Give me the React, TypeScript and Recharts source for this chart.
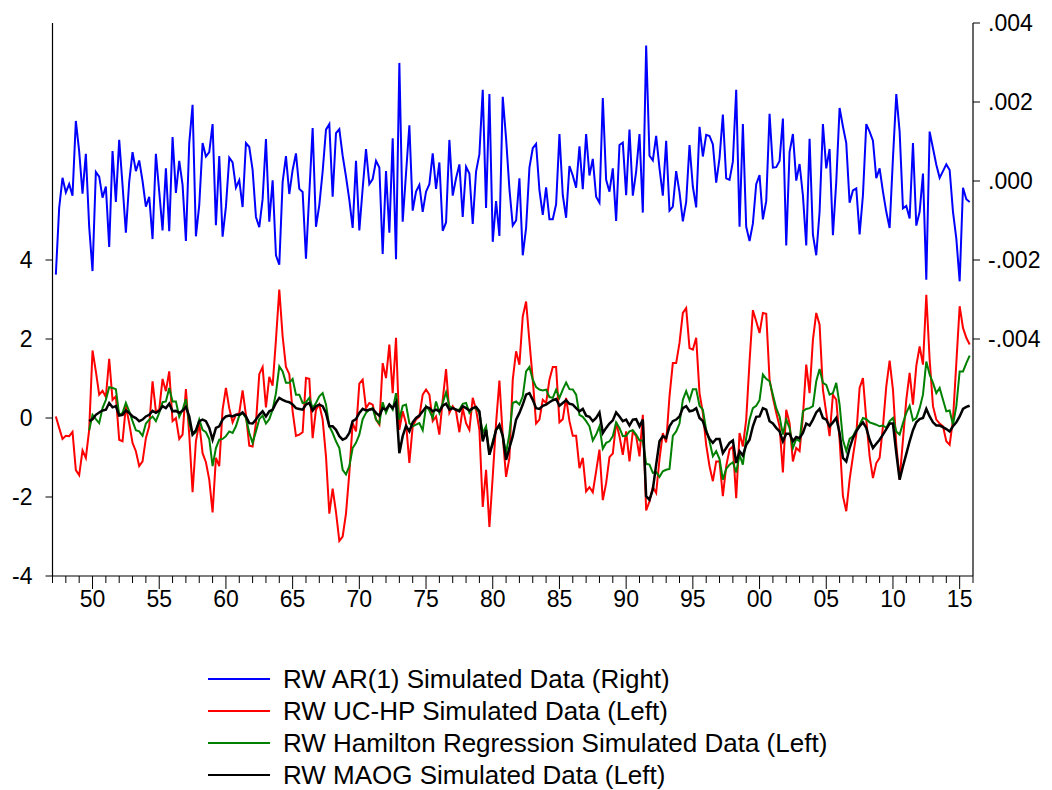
import React from "react";
import { LineChart, Line, XAxis, YAxis } from "recharts";

// Quarterly observations, 1947Q2 .. 2015Q4 (quarter index 1..275 from 1947Q1)
const START_YEAR = 1947;
const END_YEAR = 2016;

const arSim: number[] = [
  -2.37e-3, -0.68e-3, 0.08e-3, -0.29e-3, -0.08e-3, -0.37e-3, 1.52e-3, 0.75e-3, -0.32e-3, 0.69e-3,
  -1.16e-3, -2.28e-3, 0.23e-3, 0.11e-3, -0.42e-3, -0.14e-3, -1.67e-3, 0.76e-3, -0.53e-3, 1.04e-3,
  -0.10e-3, -1.31e-3, -0.02e-3, 0.73e-3, 0.25e-3, 0.52e-3, 0.0, -0.65e-3, -0.40e-3, -1.47e-3,
  0.69e-3, -0.27e-3, -1.25e-3, 0.32e-3, -1.27e-3, 1.11e-3, -0.30e-3, 0.51e-3, -0.10e-3, -1.52e-3,
  0.96e-3, 1.93e-3, -1.40e-3, -0.61e-3, 0.96e-3, 0.62e-3, 0.73e-3, 1.44e-3, -1.12e-3, 0.63e-3,
  -1.41e-3, -0.65e-3, 0.59e-3, 0.47e-3, -0.17e-3, 0.02e-3, -0.66e-3, 0.96e-3, 0.86e-3, 0.28e-3,
  -0.91e-3, -1.17e-3, -0.46e-3, 1.06e-3, -1.03e-3, 0.02e-3, -1.88e-3, -2.12e-3, -0.03e-3, 0.63e-3,
  -0.33e-3, 0.28e-3, 0.70e-3, -0.20e-3, -0.28e-3, -1.97e-3, -0.31e-3, 1.34e-3, -1.16e-3, -0.61e-3,
  0.24e-3, 1.30e-3, 1.44e-3, -0.40e-3, 1.21e-3, 1.31e-3, 0.64e-3, 0.11e-3, -0.48e-3, -1.19e-3,
  0.51e-3, -1.25e-3, -0.19e-3, 0.81e-3, -0.08e-3, 0.05e-3, 0.51e-3, 0.34e-3, -1.85e-3, 0.25e-3,
  -1.31e-3, 1.08e-3, -1.98e-3, 2.99e-3, -1.03e-3, 0.19e-3, 1.41e-3, -0.75e-3, -0.27e-3, -0.10e-3,
  -0.78e-3, -0.27e-3, -0.08e-3, 0.70e-3, -0.20e-3, 0.47e-3, -1.26e-3, -1.05e-3, 1.04e-3, -0.37e-3,
  0.07e-3, 0.42e-3, -0.91e-3, 0.36e-3, 0.19e-3, -1.09e-3, 0.24e-3, 0.68e-3, 2.31e-3, -0.68e-3,
  2.20e-3, -1.54e-3, -0.51e-3, -1.39e-3, 2.13e-3, 1.08e-3, -0.20e-3, -1.13e-3, -1.00e-3, 0.07e-3,
  -1.88e-3, -1.19e-3, 0.34e-3, 0.83e-3, 0.94e-3, -0.23e-3, -0.86e-3, -0.16e-3, -0.97e-3, -0.97e-3,
  -0.59e-3, 1.19e-3, -0.36e-3, -0.93e-3, 0.38e-3, 0.14e-3, -0.17e-3, 0.88e-3, -0.21e-3, 1.19e-3,
  0.14e-3, 0.56e-3, -0.40e-3, -0.55e-3, 2.10e-3, 0.03e-3, -0.27e-3, 0.32e-3, -1.01e-3, 0.91e-3,
  0.97e-3, -0.36e-3, 1.30e-3, -0.37e-3, 0.24e-3, 1.19e-3, -0.80e-3, 3.43e-3, 0.64e-3, 0.52e-3,
  1.14e-3, 0.32e-3, -0.37e-3, 1.02e-3, -0.75e-3, -0.65e-3, 0.25e-3, -0.29e-3, -1.02e-3, -0.53e-3,
  0.91e-3, -0.14e-3, -0.67e-3, 1.37e-3, 0.62e-3, 1.17e-3, 1.14e-3, 0.93e-3, -0.04e-3, 0.58e-3,
  1.68e-3, 0.07e-3, 0.03e-3, 0.49e-3, 2.31e-3, -1.16e-3, 1.44e-3, -1.16e-3, -1.52e-3, -1.08e-3,
  -0.08e-3, 0.15e-3, -0.97e-3, -0.51e-3, 1.70e-3, 0.34e-3, 0.35e-3, 0.51e-3, 1.58e-3, -1.63e-3,
  0.73e-3, 1.19e-3, 0.01e-3, 0.43e-3, -0.36e-3, -1.63e-3, 1.07e-3, -1.36e-3, -1.88e-3, -0.78e-3,
  1.44e-3, 0.32e-3, 0.81e-3, -1.37e-3, -0.02e-3, 1.85e-3, 1.38e-3, 0.96e-3, -0.55e-3, -0.24e-3,
  -0.19e-3, -1.35e-3, -0.36e-3, 1.44e-3, 1.25e-3, 1.02e-3, 0.07e-3, 0.32e-3, -0.27e-3, -0.78e-3,
  -1.19e-3, 0.58e-3, 2.20e-3, 1.25e-3, -0.69e-3, -0.63e-3, -0.95e-3, 0.96e-3, -1.13e-3, -0.78e-3,
  0.19e-3, -2.50e-3, 1.25e-3, 0.83e-3, 0.41e-3, 0.08e-3, 0.25e-3, 0.42e-3, 0.28e-3, -0.78e-3,
  -1.46e-3, -2.54e-3, -0.17e-3, -0.46e-3, -0.53e-3,
];

const ucHp: number[] = [
  0.04, -0.25, -0.53, -0.45, -0.46, -0.35, -1.32, -1.45, -0.82, -1.01,
  -0.30, 1.71, 1.18, 0.59, 0.69, 0.53, 1.50, 0.46, 0.55, -0.55,
  -0.59, 0.30, -0.13, -0.63, -0.84, -1.22, -1.10, -0.51, -0.21, 0.93,
  0.17, 0.21, 0.99, 0.68, 1.18, -0.08, 0.00, -0.53, -0.42, 0.73,
  -0.42, -1.88, -0.59, -0.13, -0.89, -1.12, -1.56, -2.39, -1.01, -1.22,
  0.21, 0.76, 0.25, -0.11, 0.08, 0.13, 0.70, 0.08, -0.70, -0.72,
  -0.13, 1.11, 1.29, 0.27, 1.04, 0.82, 1.98, 3.25, 2.07, 1.29,
  1.11, 0.17, -0.45, -0.42, -0.36, 1.01, 0.99, -0.51, 0.21, 0.34,
  -0.04, -0.97, -2.42, -1.79, -2.38, -3.11, -3.00, -2.42, -1.39, -0.13,
  -0.34, 0.87, 0.97, 0.25, 0.38, 0.34, -0.04, -0.17, 1.39, 1.01,
  1.86, 0.63, 2.03, -0.30, 0.17, -0.13, -1.14, -0.21, -0.04, 0.04,
  0.59, 0.72, 0.59, -0.08, 0.04, -0.42, 0.46, 1.24, 0.13, 0.30,
  0.17, -0.36, 0.25, -0.13, -0.30, 0.51, 0.21, -0.30, -2.25, -1.31,
  -2.76, -1.48, -0.13, 0.95, -0.46, -1.49, -1.01, 0.97, 1.69, 1.35,
  2.57, 2.95, 1.94, 0.97, -0.14, -0.04, 0.46, 0.38, 0.97, 1.29,
  1.29, -0.11, -0.03, 0.51, -0.08, -0.45, -0.45, -1.27, -1.01, -1.86,
  -1.75, -1.88, -1.35, -0.80, -2.08, -1.65, -0.99, -0.90, -0.11, -0.46,
  -0.93, -0.34, -1.10, -0.34, -0.46, -0.97, 0.08, -2.34, -2.11, -1.75,
  -1.90, -1.04, -0.38, -0.62, 0.55, 1.39, 1.39, 1.90, 2.66, 2.78,
  1.77, 1.73, 2.03, 0.63, 0.13, -0.68, -1.22, -1.60, -1.10, -1.10,
  -1.98, -1.22, -0.80, -0.72, -2.03, -0.38, -0.72, -0.04, 1.43, 2.73,
  2.45, 2.15, 2.66, 2.64, 0.97, 0.51, 0.13, -0.21, -1.38, 0.21,
  -0.13, -1.10, -0.76, -0.84, 0.04, 1.35, 0.63, 1.98, 2.66, 2.36,
  0.72, 0.13, -0.46, 0.59, 0.46, -0.55, -1.98, -2.36, -1.56, -0.97,
  -0.42, 0.76, 1.01, -0.04, -0.97, -1.52, -1.14, -1.01, -0.21, 0.80,
  1.45, 0.72, -0.68, -1.56, -0.55, 0.46, 1.14, 0.34, 1.32, 1.81,
  1.35, 3.12, 1.48, 0.30, -0.04, -0.14, -0.21, -0.59, -0.68, -0.04,
  1.39, 2.83, 2.28, 2.03, 1.86,
];

const hamilton: (number | null)[] = [
  null, null, null, null, null, null, null, null, null, null,
  -0.31, 0.08, -0.03, -0.13, 0.25, 0.46, 0.78, 0.76, 0.73, 0.08,
  0.13, 0.38, 0.17, -0.08, -0.31, -0.34, -0.45, -0.14, -0.04, 0.04,
  -0.08, 0.13, 0.40, 0.42, 0.76, 0.42, 0.42, 0.03, 0.21, 0.48,
  -0.13, -0.42, -0.36, -0.04, -0.30, -0.36, -0.53, -1.22, -0.76, -0.55,
  -0.53, -0.46, -0.34, -0.38, -0.21, 0.06, 0.13, 0.00, -0.38, -0.63,
  -0.34, -0.03, 0.06, -0.14, -0.03, 0.21, 0.63, 1.31, 1.18, 0.89,
  0.89, 0.99, 0.59, 0.59, 0.38, 0.40, 0.51, 0.25, 0.38, 0.55,
  0.63, 0.34, -0.21, -0.38, -0.59, -0.76, -1.31, -1.43, -1.22, -0.76,
  -0.63, -0.42, -0.03, 0.13, 0.21, 0.25, -0.04, -0.14, 0.40, 0.13,
  0.34, 0.21, 0.63, -0.04, 0.31, 0.34, -0.13, -0.21, -0.17, -0.13,
  -0.31, 0.30, 0.19, 0.00, 0.42, 0.13, 0.38, 0.65, 0.30, 0.25,
  0.21, 0.21, 0.36, 0.38, 0.13, 0.25, 0.25, 0.13, -0.38, -0.21,
  -0.93, -0.59, -0.30, -0.21, -0.46, -0.89, -0.40, 0.38, 0.42, 0.34,
  0.55, 1.18, 1.29, 0.97, 0.78, 0.72, 0.70, 0.72, 0.53, 0.51,
  0.72, 0.51, 0.72, 0.90, 0.73, 0.72, 0.59, 0.08, 0.03, -0.08,
  -0.21, -0.57, -0.42, -0.21, -0.78, -0.63, -0.59, -0.46, -0.11, -0.25,
  -0.46, -0.45, -0.34, -0.31, -0.42, -0.57, -0.57, -1.16, -1.18, -1.39,
  -1.37, -1.49, -1.35, -1.31, -1.29, -0.45, -0.34, -0.14, 0.46, 0.68,
  0.45, 0.73, 0.73, 0.31, 0.21, -0.30, -0.59, -0.97, -0.84, -1.04,
  -1.56, -1.29, -1.18, -1.12, -1.38, -0.93, -1.18, -0.51, -0.04, 0.25,
  0.31, 0.45, 1.10, 0.99, 0.93, 0.59, 0.25, 0.04, -0.42, -0.04,
  -0.25, -0.76, -0.53, -0.59, 0.17, 0.23, 0.25, 0.30, 0.93, 1.24,
  0.89, 0.84, 0.59, 0.63, 0.89, 0.34, -0.55, -0.84, -0.53, -0.46,
  -0.30, -0.17, 0.00, -0.03, -0.11, -0.14, -0.17, -0.21, -0.19, -0.25,
  -0.08, 0.00, -0.34, -0.42, -0.13, 0.13, 0.31, -0.06, 0.00, 0.25,
  0.59, 1.43, 1.10, 0.89, 0.63, 0.76, 0.46, 0.17, 0.19, -0.17,
  0.30, 1.18, 1.18, 1.39, 1.58,
];

const maog: (number | null)[] = [
  null, null, null, null, null, null, null, null, null, null,
  -0.08, -0.03, 0.08, 0.14, 0.19, 0.21, 0.38, 0.27, 0.30, 0.06,
  0.08, 0.19, 0.13, 0.04, 0.00, -0.08, -0.04, 0.04, 0.08, 0.18,
  0.13, 0.18, 0.30, 0.25, 0.36, 0.17, 0.18, 0.13, 0.18, 0.28,
  0.04, -0.42, -0.31, -0.08, -0.04, -0.08, -0.25, -0.55, -0.25, -0.21,
  -0.04, 0.04, 0.06, 0.04, 0.08, 0.08, 0.14, 0.04, -0.13, -0.14,
  -0.04, 0.08, 0.17, 0.04, 0.17, 0.21, 0.38, 0.51, 0.46, 0.42,
  0.40, 0.34, 0.25, 0.23, 0.21, 0.34, 0.38, 0.19, 0.30, 0.34,
  0.30, 0.13, -0.21, -0.21, -0.30, -0.46, -0.55, -0.51, -0.38, -0.08,
  -0.03, 0.13, 0.23, 0.19, 0.21, 0.23, 0.13, 0.06, 0.25, 0.21,
  0.34, 0.25, 0.40, -0.89, -0.46, -0.20, -0.34, -0.11, 0.00, 0.06,
  0.17, 0.28, 0.25, 0.17, 0.21, 0.17, 0.31, 0.36, 0.21, 0.25,
  0.21, 0.17, 0.30, 0.25, 0.19, 0.25, 0.28, 0.17, -0.59, -0.30,
  -0.93, -0.65, -0.30, -0.17, -0.45, -1.06, -0.76, -0.46, -0.04, 0.13,
  0.34, 0.59, 0.63, 0.46, 0.25, 0.23, 0.31, 0.34, 0.40, 0.45,
  0.48, 0.31, 0.38, 0.45, 0.36, 0.34, 0.25, 0.17, 0.23, 0.06,
  0.03, -0.08, 0.00, 0.14, -0.38, -0.25, -0.14, -0.06, 0.14, 0.04,
  -0.08, -0.04, -0.19, -0.04, -0.03, -0.21, -0.04, -1.98, -2.07, -1.81,
  -1.18, -0.59, -0.46, -0.51, -0.21, -0.08, -0.04, 0.04, 0.25, 0.30,
  0.17, 0.19, 0.25, 0.00, -0.08, -0.34, -0.53, -0.63, -0.53, -0.53,
  -0.89, -0.76, -0.63, -0.57, -1.14, -0.84, -0.95, -0.68, -0.55, -0.21,
  0.03, 0.04, 0.25, 0.21, -0.08, -0.14, -0.25, -0.34, -0.59, -0.40,
  -0.40, -0.59, -0.48, -0.51, -0.38, -0.14, -0.19, -0.04, 0.14, 0.23,
  0.00, -0.04, -0.21, -0.11, 0.00, -0.38, -1.01, -1.10, -0.76, -0.51,
  -0.34, -0.21, -0.11, -0.25, -0.55, -0.76, -0.65, -0.55, -0.42, -0.28,
  -0.14, -0.14, -0.89, -1.56, -1.22, -0.91, -0.59, -0.31, -0.11, -0.03,
  0.00, 0.23, 0.04, -0.11, -0.19, -0.19, -0.23, -0.28, -0.34, -0.21,
  -0.11, 0.04, 0.23, 0.28, 0.31,
];

const leftTicks = [-4, -2, 0, 2, 4];
const rightTicks = [-0.004, -0.002, 0, 0.002, 0.004];
const legendLabels = [
  "RW AR(1) Simulated Data (Right)",
  "RW UC-HP Simulated Data (Left)",
  "RW Hamilton Regression Simulated Data (Left)",
  "RW MAOG Simulated Data (Left)",
];
const colors = ["#0000FF", "#FF0000", "#008000", "#000000"];

// quarter index: 0 = 1947Q1; observations start at 1947Q2
const data = ucHp.map((v, k) => ({
  q: k + 1,
  ar: arSim[k],
  uc: v,
  ham: hamilton[k],
  maog: maog[k],
}));

const yearTicks: number[] = [];
for (let y = START_YEAR; y <= END_YEAR; y++) yearTicks.push((y - START_YEAR) * 4);

const FONT = "'Liberation Sans', Arial, sans-serif";
const TICK_FS = 23;

const XTick = (props: any) => {
  const { x, y, payload } = props;
  const year = START_YEAR + payload.value / 4;
  const major = year % 5 === 0;
  return (
    <g>
      <line x1={x} x2={x} y1={y} y2={y + (major ? 13 : 7)} stroke="#000" strokeWidth={1} />
      {major && year < END_YEAR && (
        <text x={x} y={y + 31} textAnchor="middle" fontSize={TICK_FS} fontFamily={FONT} fill="#000">
          {String(year % 100).padStart(2, "0")}
        </text>
      )}
    </g>
  );
};

const fmtRight = (v: number) => {
  const s = v.toFixed(3);
  return s.replace("0.", ".");
};

export default function App() {
  return (
    <div style={{ position: "absolute", left: 0, top: 0, width: 1052, height: 790, background: "#fff" }}>
      <LineChart
        width={1052}
        height={790}
        data={data}
        margin={{ top: 23, right: 0, bottom: 184, left: 0 }}
      >
        <XAxis
          dataKey="q"
          type="number"
          domain={[0, 276]}
          ticks={yearTicks}
          interval={0}
          tick={<XTick />}
          tickLine={false}
          tickSize={0}
          tickMargin={0}
          height={30}
          axisLine={{ stroke: "#000", strokeWidth: 1.2 }}
          allowDataOverflow
        />
        <YAxis
          yAxisId="left"
          orientation="left"
          width={52.5}
          domain={[-4, 10]}
          ticks={leftTicks}
          interval={0}
          allowDataOverflow
          tickSize={7}
          tickMargin={13}
          tickLine={{ stroke: "#000" }}
          axisLine={{ stroke: "#000", strokeWidth: 1.2 }}
          tick={{ fill: "#000", fontSize: TICK_FS, fontFamily: FONT }}
        />
        <YAxis
          yAxisId="right"
          orientation="right"
          width={79}
          domain={[-0.01, 0.004]}
          ticks={rightTicks}
          interval={0}
          allowDataOverflow
          tickSize={7}
          tickMargin={8}
          tickFormatter={fmtRight}
          tickLine={{ stroke: "#000" }}
          axisLine={{ stroke: "#000", strokeWidth: 1.2 }}
          tick={{ fill: "#000", fontSize: TICK_FS, fontFamily: FONT }}
        />
        <Line yAxisId="right" dataKey="ar" stroke={colors[0]} strokeWidth={2} dot={false} isAnimationActive={false} />
        <Line yAxisId="left" dataKey="uc" stroke={colors[1]} strokeWidth={2} dot={false} isAnimationActive={false} />
        <Line yAxisId="left" dataKey="ham" stroke={colors[2]} strokeWidth={2} dot={false} isAnimationActive={false} />
        <Line yAxisId="left" dataKey="maog" stroke={colors[3]} strokeWidth={2.5} dot={false} isAnimationActive={false} />
      </LineChart>
      {legendLabels.map((label, i) => (
        <div
          key={label}
          style={{
            position: "absolute",
            left: 208,
            top: 679 + i * 32 - 16,
            height: 32,
            display: "flex",
            alignItems: "center",
            fontFamily: FONT,
            fontSize: 26,
            color: "#000",
            whiteSpace: "nowrap",
          }}
        >
          <div style={{ width: 62, height: 2, background: colors[i], marginRight: 13 }} />
          <span>{label}</span>
        </div>
      ))}
    </div>
  );
}
